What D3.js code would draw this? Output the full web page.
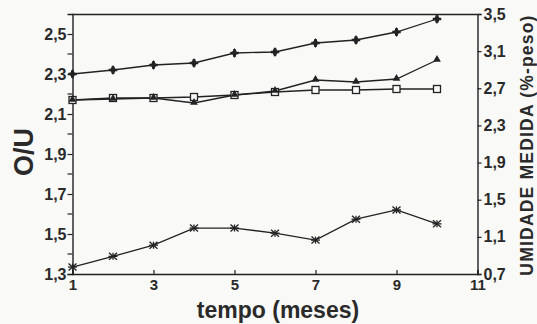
<!DOCTYPE html>
<html><head><meta charset="utf-8">
<script src="https://cdn.jsdelivr.net/npm/d3@7"></script>
<style>
html,body{margin:0;padding:0;background:#f9f9f7;}
svg{display:block;}
text{font-family:"Liberation Sans",Arial,sans-serif;font-weight:bold;fill:#2a2a2a;}
</style></head>
<body><svg id="c" width="537" height="324"></svg>
<script>
const months = [1,2,3,4,5,6,7,8,9,10];
const ouDiamond  = [2.30, 2.32, 2.345, 2.355, 2.405, 2.41, 2.455, 2.47, 2.51, 2.575];
const ouSquare   = [2.17, 2.18, 2.18, 2.185, 2.195, 2.21, 2.22, 2.22, 2.225, 2.225];
const ouTriangle = [2.17, 2.175, 2.18, 2.155, 2.195, 2.215, 2.27, 2.26, 2.275, 2.37];
const humidity   = [0.775, 0.89, 1.01, 1.195, 1.195, 1.14, 1.065, 1.29, 1.39, 1.24];
const xTicks = [1,3,5,7,9,11];
const leftTicks = [1.3,1.5,1.7,1.9,2.1,2.3,2.5];
const leftMinor = [1.4,1.6,1.8,2.0,2.2,2.4];
const rightTicks = [0.7,1.1,1.5,1.9,2.3,2.7,3.1,3.5];

const svg = d3.select("#c");
const L=72.5, R=477.5, T=14, B=274;
const ink="#222";
const x = d3.scaleLinear().domain([1,11]).range([L,R]);
const yL = d3.scaleLinear().domain([1.3,2.6]).range([B,T]);
const yR = d3.scaleLinear().domain([0.7,3.5]).range([B,T]);
const fmt = d => d3.format(".1f")(d).replace(".",",");

// frame: top line
svg.append("line").attr("x1",L).attr("x2",R).attr("y1",T+0.5).attr("y2",T+0.5).attr("stroke",ink).attr("stroke-width",1.3);

// left axis
const gl = svg.append("g").attr("transform",`translate(${L},0)`)
  .call(d3.axisLeft(yL).tickValues(leftTicks).tickFormat(fmt).tickSize(5).tickPadding(1));
gl.selectAll(".tick line").attr("stroke",ink).attr("stroke-width",1.2);
gl.select(".domain").attr("stroke",ink).attr("stroke-width",1.4);
gl.selectAll("text").style("font-size","16px").attr("fill","#2a2a2a");
gl.selectAll(".minor").data(leftMinor).enter().append("line")
  .attr("x1",-5).attr("x2",0).attr("y1",d=>yL(d)).attr("y2",d=>yL(d)).attr("stroke",ink).attr("stroke-width",1.2);

// right axis
const gr = svg.append("g").attr("transform",`translate(${R},0)`)
  .call(d3.axisRight(yR).tickValues(rightTicks).tickFormat(fmt).tickSize(4).tickPadding(2));
gr.selectAll(".tick line").attr("stroke",ink).attr("stroke-width",1.2);
gr.select(".domain").attr("stroke",ink).attr("stroke-width",1.4);
gr.selectAll("text").style("font-size","16px").attr("fill","#2a2a2a");

// bottom axis
const gb = svg.append("g").attr("transform",`translate(0,${B})`)
  .call(d3.axisBottom(x).tickValues(xTicks).tickFormat(d3.format("d")).tickSize(-4).tickPadding(5));
gb.selectAll(".tick line").attr("stroke",ink).attr("stroke-width",1.2);
gb.select(".domain").attr("stroke",ink).attr("stroke-width",1.6);
gb.selectAll("text").style("font-size","15px").attr("fill","#2a2a2a");

// titles
svg.append("text").attr("x",278).attr("y",318).attr("text-anchor","middle").style("font-size","23px").text("tempo (meses)");
svg.append("text").attr("transform","translate(33,152) rotate(-90)").attr("text-anchor","middle").style("font-size","27px").text("O/U");
svg.append("text").attr("transform","translate(533,145) rotate(-90)").attr("text-anchor","middle").style("font-size","17.5px").style("letter-spacing","1.2px").text("UMIDADE  MEDIDA  (%-peso)");

// series
const line = (ys, s) => d3.line().x((d,i)=>x(months[i])).y(d=>s(d));
function drawLine(vals, s){
  svg.append("path").datum(vals).attr("d",line(vals,s)).attr("fill","none").attr("stroke",ink).attr("stroke-width",1.3);
}
drawLine(ouSquare,yL);
drawLine(ouTriangle,yL);
drawLine(ouDiamond,yL);
drawLine(humidity,yR);

// markers
const sq = svg.append("g");
ouSquare.forEach((v,i)=>{
  sq.append("rect").attr("x",x(months[i])-3.5).attr("y",yL(v)-3.5).attr("width",7).attr("height",7)
    .attr("fill","#f9f9f7").attr("stroke",ink).attr("stroke-width",1.3);
});
const tri = d3.symbol().type(d3.symbolTriangle).size(26);
ouTriangle.forEach((v,i)=>{
  svg.append("path").attr("d",tri()).attr("transform",`translate(${x(months[i])},${yL(v)-0.5})`).attr("fill",ink);
});
const dia = d3.symbol().type(d3.symbolDiamond).size(30);
const cross = d3.symbol().type(d3.symbolCross).size(40);
ouDiamond.forEach((v,i)=>{
  const g = svg.append("g").attr("transform",`translate(${x(months[i])},${yL(v)})`);
  g.append("path").attr("d",dia()).attr("fill",ink);
  g.append("path").attr("d",cross()).attr("fill",ink).attr("transform","scale(1,0.9)");
});
humidity.forEach((v,i)=>{
  const g = svg.append("g").attr("transform",`translate(${x(months[i])},${yR(v)})`)
    .attr("stroke",ink).attr("stroke-width",1.3);
  g.append("line").attr("x1",-4).attr("x2",4).attr("y1",-3.5).attr("y2",3.5);
  g.append("line").attr("x1",-4).attr("x2",4).attr("y1",3.5).attr("y2",-3.5);
  g.append("line").attr("x1",-4.5).attr("x2",4.5).attr("y1",0).attr("y2",0);
  g.append("line").attr("x1",0).attr("x2",0).attr("y1",-3.5).attr("y2",3.5);
});
</script></body></html>
